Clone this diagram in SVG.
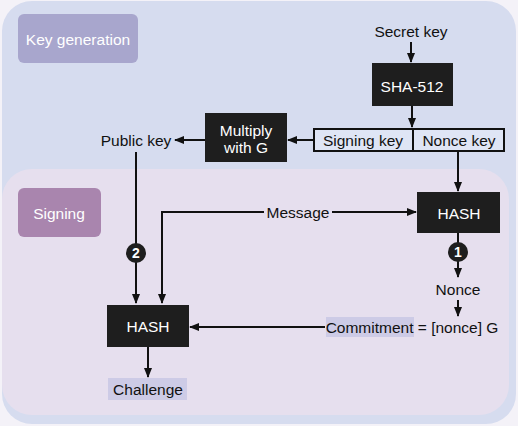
<svg xmlns="http://www.w3.org/2000/svg" width="518" height="426" viewBox="0 0 518 426">
<style>
text{font-family:"Liberation Sans",Arial,sans-serif;font-size:15.5px;fill:#111;text-anchor:middle;dominant-baseline:central}
.w{fill:#fff}
.box{fill:#1e1e1e}
.ln{stroke:#111;stroke-width:2;fill:none}
.hl{fill:#cdcbe6}
</style>
<defs>
<marker id="ah" markerWidth="10" markerHeight="10" refX="9" refY="5" orient="auto" markerUnits="userSpaceOnUse">
<path d="M0,1 L10,5 L0,9 Z" fill="#111"/>
</marker>
</defs>
<rect x="0" y="0" width="518" height="426" fill="#f4f2f8"/>
<g id="region-keygen">
<rect x="2" y="1" width="514" height="423" rx="30" fill="#d6dcef"/>
<rect x="18" y="14" width="120" height="49" rx="6" fill="#a8a6cd"/>
<text class="w" x="78" y="39">Key generation</text>
</g>
<g id="region-signing">
<rect x="2" y="169" width="507" height="246" rx="30" fill="#e6dfee"/>
<rect x="18" y="188" width="83" height="49" rx="6" fill="#a985ae"/>
<text class="w" x="59" y="213">Signing</text>
</g>
<g id="connectors">
<line class="ln" x1="411" y1="42" x2="411" y2="62" marker-end="url(#ah)"/>
<line class="ln" x1="412" y1="106" x2="412" y2="127" marker-end="url(#ah)"/>
<line class="ln" x1="313" y1="140" x2="288" y2="140" marker-end="url(#ah)"/>
<line class="ln" x1="205" y1="140" x2="175" y2="140" marker-end="url(#ah)"/>
<line class="ln" x1="458" y1="152" x2="458" y2="191" marker-end="url(#ah)"/>
<line class="ln" x1="136" y1="152" x2="136" y2="303" marker-end="url(#ah)"/>
<polyline class="ln" points="264,212 162,212 162,303" marker-end="url(#ah)"/>
<line class="ln" x1="332" y1="212" x2="416" y2="212" marker-end="url(#ah)"/>
<line class="ln" x1="458" y1="233" x2="458" y2="277" marker-end="url(#ah)"/>
<line class="ln" x1="458" y1="300" x2="458" y2="316" marker-end="url(#ah)"/>
<line class="ln" x1="325" y1="327" x2="190" y2="327" marker-end="url(#ah)"/>
<line class="ln" x1="148" y1="347" x2="148" y2="377" marker-end="url(#ah)"/>
</g>
<g id="secret-key"><text x="411" y="31">Secret key</text></g>
<g id="sha512">
<rect class="box" x="372" y="63" width="81" height="43"/>
<text class="w" x="412" y="86">SHA-512</text>
</g>
<g id="key-split">
<rect x="314" y="129" width="190" height="22" fill="#dfe5f5" stroke="#111" stroke-width="2"/>
<line x1="413" y1="129" x2="413" y2="151" stroke="#111" stroke-width="2"/>
<text x="363" y="140">Signing key</text>
<text x="459" y="140">Nonce key</text>
</g>
<g id="multiply">
<rect class="box" x="205" y="113" width="82" height="49"/>
<text class="w" x="246" y="130">Multiply</text>
<text class="w" x="246" y="147">with G</text>
</g>
<g id="public-key"><text x="136" y="140">Public key</text></g>
<g id="message"><text x="298" y="212">Message</text></g>
<g id="hash-right">
<rect class="box" x="417" y="192" width="83" height="41"/>
<text class="w" x="459" y="213">HASH</text>
</g>
<g id="step1">
<circle cx="458" cy="252" r="10" fill="#1e1e1e"/>
<text class="w" x="458" y="252" style="font-weight:bold;font-size:14px">1</text>
</g>
<g id="nonce"><text x="458" y="289">Nonce</text></g>
<g id="commitment">
<rect class="hl" x="326" y="317" width="88" height="20"/>
<text x="412" y="327">Commitment = [nonce] G</text>
</g>
<g id="step2">
<circle cx="136" cy="253" r="10" fill="#1e1e1e"/>
<text class="w" x="136" y="253" style="font-weight:bold;font-size:14px">2</text>
</g>
<g id="hash-left">
<rect class="box" x="107" y="305" width="82" height="42"/>
<text class="w" x="148" y="326">HASH</text>
</g>
<g id="challenge">
<rect class="hl" x="108" y="378" width="79" height="22"/>
<text x="148" y="389">Challenge</text>
</g>
</svg>
